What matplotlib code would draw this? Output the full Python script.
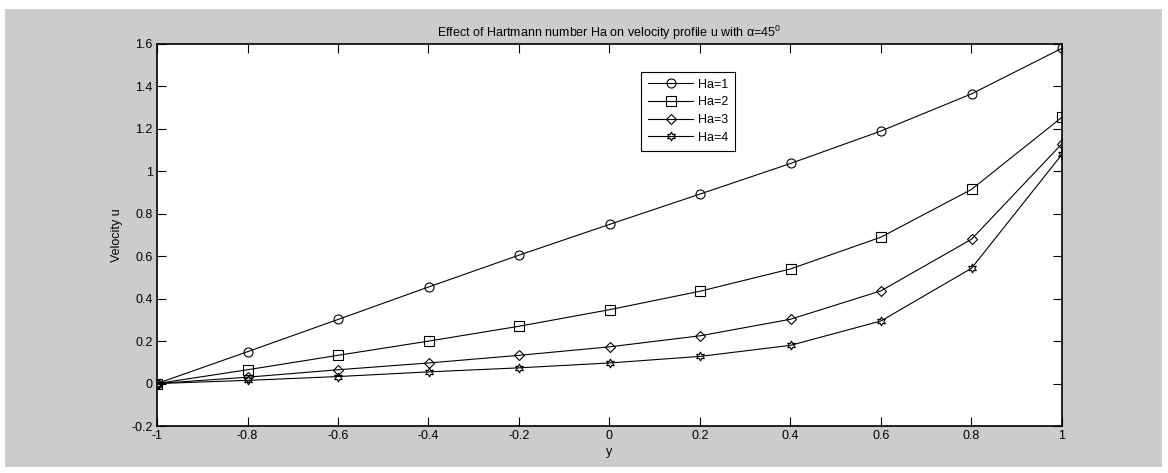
import numpy as np
import matplotlib.pyplot as plt
from matplotlib.patches import Rectangle

plt.rcParams['font.family'] = ['Liberation Sans', 'DejaVu Sans']
plt.rcParams['mathtext.fontset'] = 'custom'
plt.rcParams['mathtext.rm'] = 'Liberation Sans'
plt.rcParams['mathtext.it'] = 'Liberation Sans'

# velocity profiles u(y) for several Hartmann numbers
y = [-1, -0.8, -0.6, -0.4, -0.2, 0, 0.2, 0.4, 0.6, 0.8, 1]
u_ha1 = [0, 0.150, 0.302, 0.455, 0.605, 0.750, 0.893, 1.037, 1.190, 1.365, 1.580]
u_ha2 = [0, 0.065, 0.133, 0.200, 0.270, 0.348, 0.435, 0.540, 0.690, 0.915, 1.255]
u_ha3 = [0, 0.030, 0.065, 0.097, 0.133, 0.173, 0.225, 0.303, 0.437, 0.680, 1.130]
u_ha4 = [0, 0.015, 0.033, 0.055, 0.074, 0.097, 0.128, 0.180, 0.295, 0.543, 1.080]
labels = ['Ha=1', 'Ha=2', 'Ha=3', 'Ha=4']

fs = 9

fig = plt.figure(figsize=(11.68, 4.73), dpi=100, facecolor='white')
fig.patches.append(Rectangle((5 / 1168, 6 / 473), 1157 / 1168, 458 / 473,
                             transform=fig.transFigure, facecolor='#cccccc',
                             edgecolor='none', zorder=-10))
ax = fig.add_axes([157 / 1168, 47 / 473, 905 / 1168, 382 / 473])

mk = dict(color='black', lw=0.8, mfc='none', mec='black', mew=0.8)
ax.plot(y, u_ha1, marker='o', ms=6.5, label=labels[0], **mk)
ax.plot(y, u_ha2, marker='s', ms=6.5, label=labels[1], **mk)
ax.plot(y, u_ha3, marker='D', ms=5.5, label=labels[2], **mk)
ax.plot(y, u_ha4, marker=(6, 1, 0), ms=6.5, label=labels[3], **mk)

ax.set_xlim(-1, 1)
ax.set_ylim(-0.2, 1.6)
ax.set_xticks(np.arange(-1, 1.01, 0.2))
ax.set_xticklabels(['-1', '-0.8', '-0.6', '-0.4', '-0.2', '0', '0.2', '0.4', '0.6', '0.8', '1'])
ax.set_yticks(np.arange(-0.2, 1.61, 0.2))
ax.set_yticklabels(['-0.2', '0', '0.2', '0.4', '0.6', '0.8', '1', '1.2', '1.4', '1.6'])
ax.tick_params(direction='in', length=6.5, width=0.8, top=True, right=True,
               labelsize=fs, pad=3)
for s in ax.spines.values():
    s.set_linewidth(1.2)

ax.set_xlabel('y', fontsize=fs, labelpad=3)
ax.set_ylabel('Velocity u', fontsize=fs, labelpad=6)
ax.set_title('Effect of Hartmann number Ha on velocity profile u with α=45$^{0}$',
             fontsize=fs, pad=5)

leg = ax.legend(loc='upper left', bbox_to_anchor=(0.535, 0.927), fontsize=fs,
                frameon=True, fancybox=False, edgecolor='black', framealpha=1,
                handlelength=3.6, handletextpad=0.4, borderpad=0.55,
                labelspacing=0.45, borderaxespad=0)
leg.get_frame().set_linewidth(0.8)

fig.savefig('out.png', dpi=100, facecolor=fig.get_facecolor())
